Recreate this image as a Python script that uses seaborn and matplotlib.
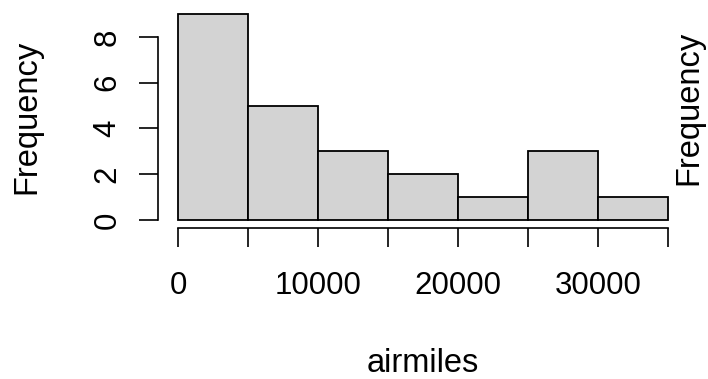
import numpy as np
import matplotlib
matplotlib.use("Agg")
import matplotlib.pyplot as plt
import seaborn as sns

# histogram of airmiles: bin edges and counts
bin_edges = [0, 5000, 10000, 15000, 20000, 25000, 30000, 35000]
counts = [9, 5, 3, 2, 1, 3, 1]
x_ticks = [0, 5000, 10000, 15000, 20000, 25000, 30000, 35000]
x_tick_labels = ["0", "", "10000", "", "20000", "", "30000", ""]
y_ticks = [0, 2, 4, 6, 8]

bin_mids = [(a + b) / 2 for a, b in zip(bin_edges[:-1], bin_edges[1:])]

sns.set_style("white")
plt.rcParams['font.family'] = ['Liberation Sans', 'DejaVu Sans']
plt.rcParams['text.color'] = 'black'

fig = plt.figure(figsize=(7.08, 3.79), dpi=100)
ax = fig.add_axes([0.2237, 0.3979, 0.9712 - 0.2237, 0.9847 - 0.3979])

sns.histplot(x=bin_mids, weights=counts, bins=bin_edges, ax=ax,
             color='#D3D3D3', edgecolor='black', linewidth=1.3, alpha=1)

# R-style limits with 4% padding
ax.set_xlim(-1400, 36400)
ax.set_ylim(-0.36, 9.36)

for s in ['top', 'right']:
    ax.spines[s].set_visible(False)
ax.spines['left'].set_bounds(0, 8)
ax.spines['bottom'].set_bounds(0, 35000)
for s in ['left', 'bottom']:
    ax.spines[s].set_linewidth(1.2)
    ax.spines[s].set_color('black')

ax.set_xticks(x_ticks)
ax.set_xticklabels(x_tick_labels)
ax.set_yticks(y_ticks)
ax.set_yticklabels([str(v) for v in y_ticks], rotation=90, va='center')
ax.tick_params(axis='both', direction='out', length=14, width=1.2,
               labelsize=22.5, colors='black', labelcolor='black',
               bottom=True, left=True)
ax.tick_params(axis='x', pad=17)
ax.tick_params(axis='y', pad=12)

ax.set_xlabel("")
ax.set_ylabel("")
fig.text(0.5975, 0.040, "airmiles", ha='center', va='center', fontsize=23.5, color='black')
fig.text(0.038, 0.691, "Frequency", ha='center', va='center', rotation=90, fontsize=23.5, color='black')
fig.text(0.973, 0.715, "Frequency", ha='center', va='center', rotation=90, fontsize=23.5, color='black')

fig.savefig("out.png", dpi=100)
